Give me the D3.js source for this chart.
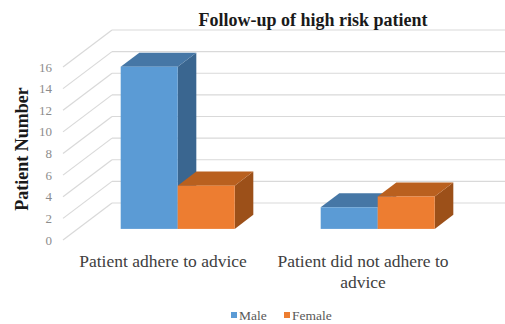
<!DOCTYPE html>
<html>
<head>
<meta charset="utf-8">
<script src="https://cdn.jsdelivr.net/npm/d3@7/dist/d3.min.js"></script>
<style>
  html, body { margin: 0; padding: 0; background: #fff; }
  svg { display: block; }
  svg text { font-family: "Liberation Serif", "DejaVu Serif", serif; }
</style>
</head>
<body>
<svg id="chart" width="505" height="324"></svg>
<script>
const categories = ["Patient adhere to advice", "Patient did not adhere to advice"];
const seriesNames = ["Male", "Female"];
const maleValues = [15, 2];
const femaleValues = [4, 3];
const yTicks = [0, 2, 4, 6, 8, 10, 12, 14, 16];
const title = "Follow-up of high risk patient";
const yTitle = "Patient Number";

const svg = d3.select("#chart");
const W = 505, H = 324;

// front-plane scales
const y = d3.scaleLinear().domain([0, 16]).range([240, 67]);
const x = d3.scaleBand().domain(categories).range([63, 463]).padding(0);
const inner = d3.scaleBand().domain(seriesNames).range([0, 114]).padding(0);

// depth vector (front -> back wall)
const DX = 49, DY = -37;
const d0 = 0.30, d1 = 0.68; // bar depth span

const grid = svg.append("g");
yTicks.forEach(t => {
  grid.append("line")
    .attr("x1", 63).attr("y1", y(t))
    .attr("x2", 63 + DX).attr("y2", y(t) + DY)
    .attr("stroke", "#d9d9d9").attr("stroke-width", 1.2);
  grid.append("line")
    .attr("x1", 63 + DX).attr("y1", y(t) + DY)
    .attr("x2", W).attr("y2", y(t) + DY)
    .attr("stroke", "#d9d9d9").attr("stroke-width", 1.2);
});

svg.append("g").selectAll("text").data(yTicks).join("text")
  .attr("x", 52).attr("y", d => y(d))
  .attr("text-anchor", "end").attr("dominant-baseline", "central")
  .attr("font-size", 13)
  .attr("fill", "#8c8c8c")
  .text(d => d);

const colors = {
  Male:   { front: "#5b9bd5", top: "#4677a6", side: "#3a6690" },
  Female: { front: "#ed7d31", top: "#b9601f", side: "#9c5019" }
};

const bars = [];
categories.forEach((c, i) => {
  bars.push({ cat: c, s: "Male", v: maleValues[i] });
  bars.push({ cat: c, s: "Female", v: femaleValues[i] });
});

const barG = svg.append("g");
bars.forEach(b => {
  const groupLeft = x(b.cat) + (x.bandwidth() - 114) / 2;
  const xl = groupLeft + inner(b.s) + DX * d0;
  const xr = xl + inner.bandwidth();
  const yb = y(0) + DY * d0;
  const yt = y(b.v) + DY * d0;
  const ddx = DX * (d1 - d0), ddy = DY * (d1 - d0);
  const col = colors[b.s];
  barG.append("path")
    .attr("d", `M${xr},${yt}L${xr + ddx},${yt + ddy}L${xr + ddx},${yb + ddy}L${xr},${yb}Z`)
    .attr("fill", col.side);
  barG.append("path")
    .attr("d", `M${xl},${yt}L${xl + ddx},${yt + ddy}L${xr + ddx},${yt + ddy}L${xr},${yt}Z`)
    .attr("fill", col.top);
  barG.append("rect")
    .attr("x", xl).attr("y", yt)
    .attr("width", xr - xl).attr("height", yb - yt)
    .attr("fill", col.front);
});

function wrap(textSel, width) {
  textSel.each(function() {
    const text = d3.select(this);
    const words = text.text().split(/\s+/);
    const xPos = text.attr("x"), yPos = +text.attr("y");
    text.text(null);
    let line = [];
    let lineNo = 0;
    let tspan = text.append("tspan").attr("x", xPos).attr("y", yPos);
    words.forEach(w => {
      line.push(w);
      tspan.text(line.join(" "));
      if (tspan.node().getComputedTextLength() > width && line.length > 1) {
        line.pop();
        tspan.text(line.join(" "));
        line = [w];
        lineNo++;
        tspan = text.append("tspan").attr("x", xPos).attr("y", yPos + lineNo * 21).text(w);
      }
    });
  });
}

svg.append("g").selectAll("text").data(categories).join("text")
  .attr("x", d => x(d) + x.bandwidth() / 2)
  .attr("y", 267)
  .attr("text-anchor", "middle")
  .attr("font-size", 17.5)
  .attr("fill", "#404040")
  .text(d => d)
  .call(wrap, 190);

svg.append("text")
  .attr("x", 313).attr("y", 26)
  .attr("text-anchor", "middle")
  .attr("font-size", 18).attr("font-weight", "bold")
  .attr("fill", "#1a1a1a")
  .text(title);

svg.append("text")
  .attr("transform", "translate(22,149) rotate(-90)")
  .attr("text-anchor", "middle").attr("dominant-baseline", "central")
  .attr("font-size", 18).attr("font-weight", "bold")
  .attr("fill", "#1a1a1a")
  .text(yTitle);

const legend = svg.append("g");
const legendPos = [{ s: "Male", x: 231 }, { s: "Female", x: 284 }];
legendPos.forEach(l => {
  legend.append("rect")
    .attr("x", l.x).attr("y", 312).attr("width", 6).attr("height", 6)
    .attr("fill", colors[l.s].front);
  legend.append("text")
    .attr("x", l.x + 8).attr("y", 319.5)
    .attr("font-size", 13.5)
    .attr("fill", "#595959")
    .text(l.s);
});
</script>
</body>
</html>
